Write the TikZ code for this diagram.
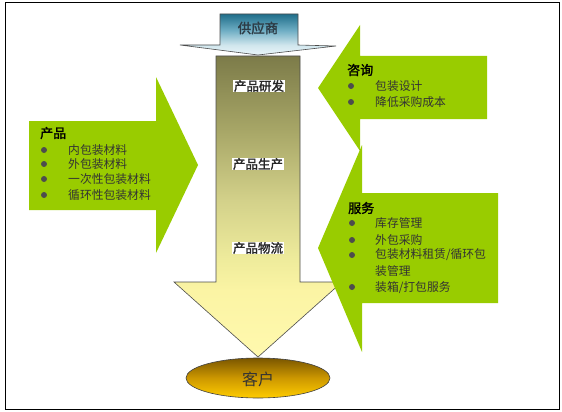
\documentclass[tikz,border=0pt]{standalone}
\usepackage{fontspec}
\newfontfamily\cjk{Noto Sans CJK SC}
\newfontfamily\cjkb[FakeBold=2]{Noto Sans CJK SC}
\definecolor{leaf}{HTML}{99CC00}
\definecolor{txt}{HTML}{333333}
\definecolor{dot}{HTML}{4D4D4D}
\definecolor{mainC}{HTML}{FFF9AE}
\definecolor{mainB}{HTML}{FBF4A4}
\definecolor{mainBB}{HTML}{EFEC9C}
\definecolor{mainM}{HTML}{D3D18A}
\definecolor{mainT2}{HTML}{A6A566}
\definecolor{mainT}{HTML}{7C7B49}
\definecolor{supT}{HTML}{1F6E8A}
\definecolor{supM}{HTML}{6FAEC4}
\definecolor{supB}{HTML}{EAF5F8}
\pgfdeclareverticalshading{mainshade}{100bp}{color(0bp)=(mainC); color(25bp)=(mainC); color(36bp)=(mainB); color(41bp)=(mainBB); color(51bp)=(mainM); color(63bp)=(mainT2); color(75bp)=(mainT); color(100bp)=(mainT)}
\pgfdeclareverticalshading{supshade}{100bp}{color(0bp)=(supB); color(25bp)=(supB); color(37bp)=(supB!80!supM); color(55bp)=(supM); color(75bp)=(supT); color(100bp)=(supT)}
\tikzset{
  greenarrow/.style={fill=leaf, draw=none},
  head/.style={anchor=west, inner sep=0pt, text=black, font=\cjkb\fontsize{13}{15}\selectfont},
  item/.style={anchor=west, inner sep=0pt, text=txt, font=\cjk\fontsize{11.8}{14}\selectfont},
  bul/.style={circle, fill=dot, inner sep=0pt, minimum size=6pt},
  stage/.style={fill=white, inner xsep=1pt, inner ysep=0.5pt, text=black!85, font=\cjkb\fontsize{12.5}{14}\selectfont}
}
\begin{document}
\begin{tikzpicture}[x=1pt,y=-1pt]
\useasboundingbox (0,0) rectangle (562,412);
\draw[line width=1pt] (5,3) rectangle (559,409);
% main arrow
\shade[shading=mainshade, draw=black!70, line width=0.6pt]
  (216,56) -- (300,56) -- (300,282) -- (342,282) -- (258,357) -- (174,282) -- (216,282) -- cycle;
% supplier arrow
\shade[shading=supshade, draw=black!70, line width=0.6pt]
  (220,14) -- (298,14) -- (298,45) -- (336,46) -- (258,55) -- (180,45) -- (220,45) -- cycle;
\node[text={rgb,255:red,45;green,60;blue,70}, font=\cjkb\fontsize{13.5}{15}\selectfont, inner sep=0pt] (supplier) at (258,28) {供应商};
% customer ellipse
\shade[top color={rgb,255:red,122;green,86;blue,0}, bottom color={rgb,255:red,255;green,204;blue,0}, middle color={rgb,255:red,205;green,152;blue,0}, draw=black!75, line width=0.6pt]
  (258,378) ellipse [x radius=72, y radius=20];
\node[text=black!80, font=\cjk\fontsize{16}{18}\selectfont, inner sep=0pt] (customer) at (258,379) {客户};
% stage labels
\node[stage] (s1) at (259,86) {产品研发};
\node[stage] (s2) at (258,164) {产品生产};
\node[stage] (s3) at (258,248) {产品物流};
% left green arrow
\fill[greenarrow] (29,121) -- (156,121) -- (156,77) -- (198,165) -- (156,253) -- (156,210) -- (29,210) -- cycle;
% top right green arrow
\fill[greenarrow] (487,56) -- (360,56) -- (360,25) -- (318,88) -- (360,151) -- (360,119) -- (487,119) -- cycle;
% bottom right green arrow
\fill[greenarrow] (498,193) -- (362,193) -- (362,145) -- (318,248) -- (362,352) -- (362,303) -- (498,303) -- cycle;
% left texts
\node[head] (h1) at (40,133) {产品};
\node[bul] (b11) at (44,150) {};
\node[bul] (b12) at (44,164) {};
\node[bul] (b13) at (44,179) {};
\node[bul] (b14) at (44,195) {};
\node[item] (t11) at (68,150) {内包装材料};
\node[item] (t12) at (68,164) {外包装材料};
\node[item] (t13) at (68,179) {一次性包装材料};
\node[item] (t14) at (68,195) {循环性包装材料};
% top right texts
\node[head] (h2) at (347,70) {咨询};
\node[bul] (b21) at (351,86) {};
\node[bul] (b22) at (351,102) {};
\node[item] (t21) at (375,86) {包装设计};
\node[item] (t22) at (375,102) {降低采购成本};
% bottom right texts
\node[head] (h3) at (348,208) {服务};
\node[bul] (b31) at (352,223) {};
\node[bul] (b32) at (352,240) {};
\node[bul] (b33) at (352,255) {};
\node[bul] (b34) at (352,287) {};
\node[item] (t31) at (375,223) {库存管理};
\node[item] (t32) at (375,240) {外包采购};
\node[item] (t33) at (375,255) {包装材料租赁/循环包};
\node[item] (t33b) at (375,271) {装管理};
\node[item] (t34) at (375,288) {装箱/打包服务};
\end{tikzpicture}
\end{document}
